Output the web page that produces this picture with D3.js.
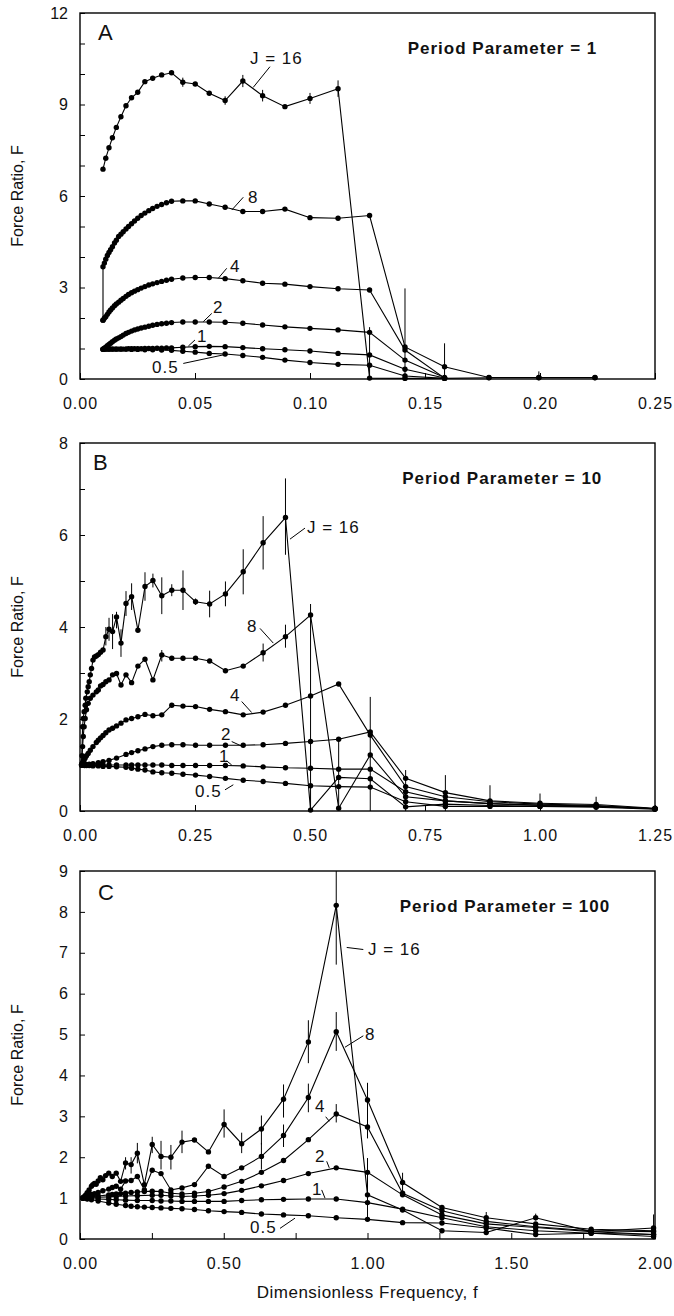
<!DOCTYPE html>
<html>
<head>
<meta charset="utf-8">
<script src="https://cdn.jsdelivr.net/npm/d3@7"></script>
<style>
  body { margin: 0; background: #fff; }
  text { font-family: "Liberation Sans", Arial, Helvetica, sans-serif; fill: #111; }
</style>
</head>
<body>
<svg id="chart" width="674" height="1316"></svg>
<script>
// ---- Panel A: period parameter = 1 ----  [frequency f, force ratio F]
const a16 = [[0.0100,6.88],[0.0112,7.24],[0.0126,7.58],[0.0141,7.91],[0.0158,8.25],[0.0178,8.6],[0.0200,8.96],[0.0224,9.22],[0.0251,9.4],[0.0282,9.75],[0.0316,9.86],[0.0355,9.97],[0.0398,10.04],[0.0447,9.73],[0.0501,9.67],[0.0562,9.37],[0.0631,9.13],[0.0708,9.77],[0.0794,9.29],[0.0891,8.93],[0.1000,9.2],[0.1122,9.52],[0.1259,0.03],[0.1413,0.02],[0.1585,0.02],[0.1778,0.04],[0.1995,0.04],[0.2239,0.04]];
const a8 = [[0.0100,1.93],[0.0100,3.68],[0.0106,3.80],[0.0112,3.93],[0.0119,4.05],[0.0126,4.15],[0.0133,4.24],[0.0141,4.34],[0.0150,4.46],[0.0158,4.55],[0.0168,4.67],[0.0178,4.75],[0.0188,4.83],[0.0200,4.92],[0.0211,5.0],[0.0224,5.09],[0.0237,5.18],[0.0251,5.27],[0.0266,5.36],[0.0282,5.44],[0.0299,5.52],[0.0316,5.59],[0.0335,5.66],[0.0355,5.72],[0.0376,5.78],[0.0398,5.83],[0.0447,5.84],[0.0501,5.84],[0.0562,5.74],[0.0631,5.63],[0.0708,5.49],[0.0794,5.49],[0.0891,5.57],[0.1000,5.29],[0.1122,5.27],[0.1259,5.36],[0.1413,1.05],[0.1585,0.4],[0.1778,0.05],[0.1995,0.05],[0.2239,0.05]];
const a4 = [[0.0100,1.93],[0.0106,1.99],[0.0112,2.04],[0.0119,2.12],[0.0126,2.2],[0.0133,2.26],[0.0141,2.33],[0.0150,2.40],[0.0158,2.46],[0.0168,2.52],[0.0178,2.58],[0.0188,2.64],[0.0200,2.71],[0.0211,2.77],[0.0224,2.83],[0.0237,2.88],[0.0251,2.93],[0.0266,2.98],[0.0282,3.03],[0.0299,3.08],[0.0316,3.12],[0.0335,3.16],[0.0355,3.2],[0.0376,3.24],[0.0398,3.27],[0.0447,3.31],[0.0501,3.33],[0.0562,3.33],[0.0631,3.29],[0.0708,3.22],[0.0794,3.14],[0.0891,3.11],[0.1000,3.03],[0.1122,2.96],[0.1259,2.92],[0.1413,0.95],[0.1585,0.03]];
const a2 = [[0.0100,0.97],[0.0106,1.01],[0.0112,1.04],[0.0119,1.09],[0.0126,1.13],[0.0133,1.17],[0.0141,1.22],[0.0150,1.27],[0.0158,1.31],[0.0168,1.35],[0.0178,1.39],[0.0188,1.44],[0.0200,1.49],[0.0211,1.53],[0.0224,1.57],[0.0237,1.61],[0.0251,1.64],[0.0266,1.67],[0.0282,1.70],[0.0299,1.73],[0.0316,1.76],[0.0335,1.79],[0.0355,1.81],[0.0376,1.83],[0.0398,1.85],[0.0447,1.87],[0.0501,1.87],[0.0562,1.87],[0.0631,1.86],[0.0708,1.83],[0.0794,1.77],[0.0891,1.71],[0.1000,1.66],[0.1122,1.61],[0.1259,1.53],[0.1413,0.62],[0.1585,0.05]];
const a1 = [[0.0100,0.98],[0.0106,0.98],[0.0112,0.98],[0.0119,0.98],[0.0126,0.98],[0.0133,0.98],[0.0141,0.98],[0.0150,0.98],[0.0158,0.98],[0.0168,0.98],[0.0178,0.98],[0.0188,0.98],[0.0200,0.98],[0.0211,0.99],[0.0224,0.99],[0.0237,0.99],[0.0251,0.99],[0.0266,0.99],[0.0282,1.0],[0.0299,1.0],[0.0316,1.0],[0.0335,1.01],[0.0355,1.01],[0.0376,1.02],[0.0398,1.02],[0.0447,1.04],[0.0501,1.06],[0.0562,1.07],[0.0631,1.06],[0.0708,1.03],[0.0794,0.99],[0.0891,0.96],[0.1000,0.92],[0.1122,0.84],[0.1259,0.79],[0.1413,0.32],[0.1585,0.03]];
const a05 = [[0.0100,0.98],[0.0112,0.98],[0.0126,0.98],[0.0141,0.98],[0.0158,0.98],[0.0178,0.98],[0.0200,0.98],[0.0224,0.97],[0.0251,0.97],[0.0282,0.96],[0.0316,0.96],[0.0355,0.95],[0.0398,0.94],[0.0447,0.91],[0.0501,0.88],[0.0562,0.84],[0.0631,0.82],[0.0708,0.77],[0.0794,0.71],[0.0891,0.62],[0.1000,0.54],[0.1122,0.48],[0.1259,0.45],[0.1413,0.1],[0.1585,0.02]];
const errA = [[0.0447,9.58,9.88],[0.0631,8.99,9.27],[0.0708,9.57,9.97],[0.0794,9.1,9.48],[0.1000,9.02,9.38],[0.1122,9.25,9.79],[0.1259,0,1.7],[0.1413,0,2.97],[0.1585,0,1.17],[0.1995,0,0.25]];
const xTicksA = [0, 0.05, 0.10, 0.15, 0.20, 0.25];
const xLabelsA = [0, 0.05, 0.10, 0.15, 0.20, 0.25];
const yTicksA = [0,1,2,3,4,5,6,7,8,9,10,11,12];
const yLabelsA = [0, 3, 6, 9, 12];

// ---- Panel B: period parameter = 10 ----
const b16 = [[0.0035,1.0],[0.0056,1.83],[0.0071,2.01],[0.0089,2.16],[0.0112,2.3],[0.0126,2.45],[0.0158,2.59],[0.0178,2.7],[0.0200,2.81],[0.0224,2.96],[0.0251,3.1],[0.0282,3.28],[0.0316,3.35],[0.0355,3.37],[0.0398,3.4],[0.0447,3.45],[0.0501,3.5],[0.0562,3.79],[0.0631,3.95],[0.0708,3.9],[0.0794,4.22],[0.0891,3.65],[0.1000,4.51],[0.1122,4.66],[0.1259,3.93],[0.1413,4.88],[0.1585,5.01],[0.1778,4.68],[0.1995,4.8],[0.2239,4.8],[0.2512,4.55],[0.2818,4.5],[0.3162,4.72],[0.3548,5.2],[0.3981,5.83],[0.4467,6.38],[0.5012,0.02],[0.5623,0.73],[0.6310,0.70],[0.7079,0.09],[0.7943,0.15],[0.8913,0.12],[1.000,0.1],[1.122,0.1],[1.25,0.05]];
const b8 = [[0.0035,1.0],[0.0045,1.2],[0.0056,1.4],[0.0071,1.62],[0.0089,1.83],[0.0112,2.01],[0.0141,2.2],[0.0178,2.34],[0.0224,2.45],[0.0282,2.52],[0.0355,2.59],[0.0398,2.63],[0.0447,2.72],[0.0501,2.75],[0.0562,2.81],[0.0631,2.85],[0.0708,2.96],[0.0794,2.99],[0.0891,2.74],[0.1000,2.96],[0.1122,2.79],[0.1259,3.15],[0.1413,3.3],[0.1585,2.85],[0.1778,3.39],[0.1995,3.32],[0.2239,3.32],[0.2512,3.32],[0.2818,3.26],[0.3162,3.05],[0.3548,3.15],[0.3981,3.44],[0.4467,3.79],[0.5012,4.26],[0.5623,0.06],[0.6310,1.22],[0.7079,0.31],[0.7943,0.22],[0.8913,0.16],[1.000,0.12],[1.122,0.1],[1.25,0.05]];
const b4 = [[0.0035,1.0],[0.0045,1.03],[0.0056,1.05],[0.0071,1.08],[0.0089,1.11],[0.0112,1.15],[0.0141,1.2],[0.0178,1.25],[0.0224,1.32],[0.0282,1.4],[0.0355,1.49],[0.0398,1.54],[0.0447,1.59],[0.0501,1.64],[0.0562,1.7],[0.0631,1.76],[0.0708,1.8],[0.0794,1.85],[0.0891,1.91],[0.1000,1.98],[0.1122,2.01],[0.1259,2.05],[0.1413,2.1],[0.1585,2.07],[0.1778,2.09],[0.1995,2.3],[0.2239,2.28],[0.2512,2.27],[0.2818,2.21],[0.3162,2.16],[0.3548,2.09],[0.3981,2.15],[0.4467,2.3],[0.5012,2.5],[0.5623,2.76],[0.6310,1.65],[0.7079,0.53],[0.7943,0.31],[0.8913,0.2],[1.000,0.15],[1.122,0.12],[1.25,0.05]];
const b2 = [[0.0035,1.0],[0.0100,1.0],[0.0141,1.01],[0.0200,1.02],[0.0282,1.03],[0.0398,1.05],[0.0501,1.07],[0.0631,1.1],[0.0794,1.15],[0.1000,1.23],[0.1122,1.27],[0.1259,1.31],[0.1413,1.35],[0.1585,1.4],[0.1778,1.43],[0.1995,1.44],[0.2239,1.44],[0.2512,1.43],[0.2818,1.43],[0.3162,1.43],[0.3548,1.43],[0.3981,1.44],[0.4467,1.47],[0.5012,1.51],[0.5623,1.56],[0.6310,1.72],[0.7079,0.71],[0.7943,0.4],[0.8913,0.22],[1.000,0.17],[1.122,0.14],[1.25,0.06]];
const b1 = [[0.0035,1.0],[0.0100,1.0],[0.0141,1.0],[0.0200,1.0],[0.0282,1.0],[0.0398,1.0],[0.0501,1.0],[0.0631,1.0],[0.0794,1.0],[0.1000,1.0],[0.1122,1.0],[0.1259,1.0],[0.1413,1.0],[0.1585,1.0],[0.1778,1.0],[0.1995,0.99],[0.2239,0.99],[0.2512,0.99],[0.2818,0.99],[0.3162,0.99],[0.3548,0.98],[0.3981,0.96],[0.4467,0.94],[0.5012,0.93],[0.5623,0.91],[0.6310,0.91],[0.7079,0.42],[0.7943,0.22],[0.8913,0.16],[1.000,0.13],[1.122,0.11],[1.25,0.05]];
const b05 = [[0.0035,1.0],[0.0100,0.99],[0.0141,0.99],[0.0200,0.99],[0.0282,0.98],[0.0398,0.98],[0.0501,0.97],[0.0631,0.97],[0.0794,0.96],[0.1000,0.95],[0.1122,0.93],[0.1259,0.91],[0.1413,0.89],[0.1585,0.85],[0.1778,0.83],[0.1995,0.82],[0.2239,0.8],[0.2512,0.78],[0.2818,0.75],[0.3162,0.71],[0.3548,0.67],[0.3981,0.64],[0.4467,0.6],[0.5012,0.55],[0.5623,0.53],[0.6310,0.52],[0.7079,0.2],[0.7943,0.1],[0.8913,0.1],[1.000,0.1],[1.122,0.08],[1.25,0.04]];
const errB = [[0.0562,3.6,4.0],[0.0631,3.7,4.2],[0.0708,3.52,4.28],[0.0794,3.97,4.33],[0.0891,3.35,3.95],[0.1000,4.24,4.78],[0.1122,4.37,4.95],[0.1413,4.57,5.19],[0.1585,4.86,5.16],[0.1778,4.28,5.08],[0.1995,4.67,4.93],[0.2239,4.37,5.23],[0.2512,4.48,4.62],[0.2818,4.21,4.79],[0.3162,4.45,4.99],[0.3548,4.71,5.69],[0.3981,5.25,6.41],[0.4467,5.57,7.23],[0.1778,3.25,3.5],[0.3981,3.25,3.64],[0.4467,3.55,4.05],[0.5012,0,4.5],[0.5623,0.06,1.56],[0.6310,0,2.48],[0.7079,0,0.89],[0.7943,0,0.78],[0.8913,0.05,0.56],[1.000,0.05,0.38],[1.122,0.02,0.31]];
const xTicksB = [0, 0.25, 0.50, 0.75, 1.00, 1.25];
const xLabelsB = [0, 0.25, 0.50, 0.75, 1.00, 1.25];
const yTicksB = [0,1,2,3,4,5,6,7,8];
const yLabelsB = [0, 2, 4, 6, 8];

// ---- Panel C: period parameter = 100 ----
const c16 = [[0.0100,1.0],[0.0126,1.02],[0.0158,1.04],[0.0200,1.08],[0.0251,1.13],[0.0316,1.2],[0.0398,1.29],[0.0447,1.33],[0.0501,1.36],[0.0562,1.34],[0.0631,1.42],[0.0708,1.5],[0.0794,1.45],[0.0891,1.55],[0.1000,1.61],[0.1122,1.53],[0.1259,1.61],[0.1413,1.41],[0.1585,1.86],[0.1778,1.82],[0.1995,2.1],[0.2239,1.33],[0.2512,2.31],[0.2818,2.02],[0.3162,2.0],[0.3548,2.37],[0.3981,2.42],[0.4467,2.13],[0.5012,2.8],[0.5623,2.33],[0.6310,2.69],[0.7079,3.42],[0.7943,4.82],[0.8913,8.16],[1.000,1.08],[1.122,0.71],[1.259,0.2],[1.413,0.16],[1.585,0.52],[1.778,0.18],[1.995,0.27]];
const c8 = [[0.0100,1.0],[0.0126,1.01],[0.0158,1.02],[0.0200,1.03],[0.0251,1.05],[0.0316,1.07],[0.0398,1.09],[0.0501,1.11],[0.0631,1.14],[0.0794,1.18],[0.1000,1.22],[0.1122,1.26],[0.1259,1.29],[0.1413,1.22],[0.1585,1.42],[0.1778,1.43],[0.1995,1.53],[0.2239,1.2],[0.2512,1.68],[0.2818,1.6],[0.3162,1.2],[0.3548,1.25],[0.3981,1.33],[0.4467,1.78],[0.5012,1.53],[0.5623,1.74],[0.6310,2.02],[0.7079,2.53],[0.7943,3.46],[0.8913,5.07],[1.000,3.4],[1.122,1.38],[1.259,0.77],[1.413,0.52],[1.585,0.37],[1.778,0.24],[1.995,0.2]];
const c4 = [[0.0100,1.0],[0.0158,1.01],[0.0251,1.02],[0.0398,1.03],[0.0631,1.05],[0.1000,1.08],[0.1122,1.09],[0.1259,1.1],[0.1413,1.11],[0.1585,1.12],[0.1778,1.14],[0.1995,1.15],[0.2239,1.16],[0.2512,1.17],[0.2818,1.16],[0.3162,1.12],[0.3548,1.1],[0.3981,1.12],[0.4467,1.16],[0.5012,1.27],[0.5623,1.41],[0.6310,1.63],[0.7079,1.92],[0.7943,2.43],[0.8913,3.06],[1.000,2.74],[1.122,1.12],[1.259,0.69],[1.413,0.43],[1.585,0.3],[1.778,0.2],[1.995,0.18]];
const c2 = [[0.0100,1.0],[0.0251,1.01],[0.0631,1.02],[0.1000,1.03],[0.1259,1.04],[0.1585,1.05],[0.1995,1.06],[0.2512,1.07],[0.2818,1.07],[0.3162,1.05],[0.3548,1.04],[0.3981,1.05],[0.4467,1.07],[0.5012,1.11],[0.5623,1.19],[0.6310,1.3],[0.7079,1.43],[0.7943,1.6],[0.8913,1.74],[1.000,1.63],[1.122,1.08],[1.259,0.59],[1.413,0.37],[1.585,0.28],[1.778,0.18],[1.995,0.11]];
const c1 = [[0.0100,1.0],[0.0251,0.99],[0.0631,0.98],[0.1000,0.97],[0.1259,0.96],[0.1585,0.95],[0.1995,0.94],[0.2512,0.94],[0.2818,0.93],[0.3162,0.93],[0.3548,0.92],[0.3981,0.92],[0.4467,0.92],[0.5012,0.92],[0.5623,0.94],[0.6310,0.96],[0.7079,0.97],[0.7943,0.98],[0.8913,0.98],[1.000,0.89],[1.122,0.73],[1.259,0.52],[1.413,0.3],[1.585,0.2],[1.778,0.14],[1.995,0.06]];
const c05 = [[0.0100,1.0],[0.0251,0.98],[0.0398,0.96],[0.0631,0.93],[0.1000,0.88],[0.1259,0.85],[0.1585,0.82],[0.1778,0.8],[0.1995,0.79],[0.2239,0.78],[0.2512,0.77],[0.2818,0.76],[0.3162,0.75],[0.3548,0.74],[0.3981,0.72],[0.4467,0.69],[0.5012,0.67],[0.5623,0.65],[0.6310,0.61],[0.7079,0.59],[0.7943,0.57],[0.8913,0.52],[1.000,0.48],[1.122,0.4],[1.259,0.39],[1.413,0.27],[1.585,0.11],[1.778,0.14],[1.995,0.11]];
const errC = [[0.1585,1.7,2.0],[0.1778,1.6,2.0],[0.1995,1.85,2.35],[0.2512,2.1,2.5],[0.2818,1.7,2.4],[0.3162,1.7,2.3],[0.3548,2.1,2.65],[0.5012,2.48,3.17],[0.5623,2.1,2.6],[0.6310,2.31,3.02],[0.7079,2.97,3.78],[0.7943,4.3,5.35],[0.8913,6.71,9.0],[0.6310,1.7,2.35],[0.7079,2.25,2.8],[0.7943,3.1,3.8],[0.8913,4.6,5.55],[0.8913,2.85,3.3],[1.000,2.46,3.82],[1.000,0.48,1.98],[1.122,1.14,1.62],[1.413,0.16,0.66],[1.585,0.45,0.62],[1.995,0.06,0.6]];
const xTicksC = [0, 0.25, 0.50, 0.75, 1.00, 1.25, 1.50, 1.75, 2.00];
const xLabelsC = [0, 0.50, 1.00, 1.50, 2.00];
const yTicksC = [0,1,2,3,4,5,6,7,8,9];
const yLabelsC = [0,1,2,3,4,5,6,7,8,9];

// ---- layout ----
const svg = d3.select("#chart");
const left = 80, right = 655;

const panels = [
  { letter: "A", title: "Period Parameter = 1", top: 13, bottom: 379, xMax: 0.25, yMax: 12,
    xTicks: xTicksA, xLabels: xLabelsA, yTicks: yTicksA, yLabels: yLabelsA,
    series: [a16, a8, a4, a2, a1, a05], errors: errA,
    letterAt: [0.0078, 11.1], titleAt: [0.1837, 10.66],
    notes: [
      { t: "J = 16", at: [0.0739, 10.33], from: [0.0826, 10.24], to: [0.0753, 9.56] },
      { t: "8", at: [0.0730, 5.77], from: [0.0710, 5.96], to: [0.0660, 5.54] },
      { t: "4", at: [0.0652, 3.51], from: [0.0638, 3.63], to: [0.0601, 3.30] },
      { t: "2", at: [0.0578, 2.16], from: [0.0573, 2.15], to: [0.0536, 1.88] },
      { t: "1", at: [0.0509, 1.21], from: [0.0500, 1.28], to: [0.0471, 1.08] },
      { t: "0.5", at: [0.0313, 0.20], from: [0.0449, 0.51], to: [0.0623, 0.79] }
    ] },
  { letter: "B", title: "Period Parameter = 10", top: 443, bottom: 811, xMax: 1.25, yMax: 8,
    xTicks: xTicksB, xLabels: xLabelsB, yTicks: yTicksB, yLabels: yLabelsB,
    series: [b16, b8, b4, b2, b1, b05], errors: errB,
    letterAt: [0.028, 7.41], titleAt: [0.918, 7.11],
    notes: [
      { t: "J = 16", at: [0.4935, 6.04], from: [0.4891, 6.15], to: [0.4565, 5.91] },
      { t: "8", at: [0.363, 3.89], from: [0.3913, 3.97], to: [0.4202, 3.65] },
      { t: "4", at: [0.3261, 2.39], from: [0.3515, 2.38], to: [0.3733, 2.14] },
      { t: "2", at: [0.3065, 1.54], from: [0.3298, 1.51], to: [0.3515, 1.41] },
      { t: "1", at: [0.3022, 1.07], from: [0.3189, 1.09], to: [0.3298, 1.0] },
      { t: "0.5", at: [0.25, 0.30], from: [0.3152, 0.46], to: [0.3333, 0.57] }
    ] },
  { letter: "C", title: "Period Parameter = 100", top: 871, bottom: 1239, xMax: 2.0, yMax: 9,
    xTicks: xTicksC, xLabels: xLabelsC, yTicks: yTicksC, yLabels: yLabelsC,
    series: [c16, c8, c4, c2, c1, c05], errors: errC,
    letterAt: [0.0626, 8.28], titleAt: [1.478, 7.99],
    notes: [
      { t: "J = 16", at: [1.0017, 6.95], from: [0.9854, 7.08], to: [0.9277, 7.13] },
      { t: "8", at: [0.9913, 4.86], from: [0.9854, 4.97], to: [0.9217, 4.69] },
      { t: "4", at: [0.8174, 3.10], from: [0.8546, 2.99], to: [0.8671, 2.88] },
      { t: "2", at: [0.8174, 1.89], from: [0.8581, 1.90], to: [0.8671, 1.74] },
      { t: "1", at: [0.807, 1.08], from: [0.8407, 1.20], to: [0.8522, 1.0] },
      { t: "0.5", at: [0.5913, 0.15], from: [0.6957, 0.26], to: [0.7478, 0.51] }
    ] }
];

const fmt = d3.format(".2f");

panels.forEach(p => {
  const x = d3.scaleLinear().domain([0, p.xMax]).range([left, right]);
  const y = d3.scaleLinear().domain([0, p.yMax]).range([p.bottom, p.top]);
  const g = svg.append("g");

  // x axis (ticks inside)
  g.append("g")
    .attr("transform", `translate(0,${p.bottom})`)
    .call(d3.axisBottom(x).tickValues(p.xTicks).tickSize(-6).tickPadding(18.5)
      .tickFormat(d => p.xLabels.includes(d) ? fmt(d) : ""))
    .call(a => a.select(".domain").remove())
    .call(a => a.selectAll("text").attr("font-size", 16).attr("letter-spacing", 1)
      .attr("font-family", "Liberation Sans, Arial, sans-serif").attr("fill", "#111"));

  // y axis (ticks inside)
  g.append("g")
    .attr("transform", `translate(${left},0)`)
    .call(d3.axisLeft(y).tickValues(p.yTicks).tickSize(-5).tickPadding(12)
      .tickFormat(d => p.yLabels.includes(d) ? d : ""))
    .call(a => a.select(".domain").remove())
    .call(a => a.selectAll("text").attr("font-size", 16)
      .attr("font-family", "Liberation Sans, Arial, sans-serif").attr("fill", "#111"));

  // frame
  g.append("rect")
    .attr("x", left).attr("y", p.top)
    .attr("width", right - left).attr("height", p.bottom - p.top)
    .attr("fill", "none").attr("stroke", "#000").attr("stroke-width", 1.4);

  // error bars
  g.selectAll(null).data(p.errors).join("line")
    .attr("x1", d => x(d[0])).attr("x2", d => x(d[0]))
    .attr("y1", d => y(Math.max(0, d[1]))).attr("y2", d => y(Math.min(p.yMax, d[2])))
    .attr("stroke", "#000").attr("stroke-width", 1);

  // series lines and markers
  const line = d3.line().x(d => x(d[0])).y(d => y(d[1]));
  p.series.forEach(s => {
    g.append("path").datum(s).attr("d", line)
      .attr("fill", "none").attr("stroke", "#000").attr("stroke-width", 1.1);
    g.selectAll(null).data(s).join("circle")
      .attr("cx", d => x(d[0])).attr("cy", d => y(d[1])).attr("r", 2.7)
      .attr("fill", "#000");
  });

  // series labels with leader lines
  p.notes.forEach(n => {
    g.append("line")
      .attr("x1", x(n.from[0])).attr("y1", y(n.from[1]))
      .attr("x2", x(n.to[0])).attr("y2", y(n.to[1]))
      .attr("stroke", "#000").attr("stroke-width", 1);
    g.append("text")
      .attr("x", x(n.at[0])).attr("y", y(n.at[1]))
      .attr("font-size", 17).attr("letter-spacing", 1)
      .text(n.t);
  });

  // panel letter and title
  g.append("text")
    .attr("x", x(p.letterAt[0])).attr("y", y(p.letterAt[1]))
    .attr("font-size", 22)
    .text(p.letter);
  g.append("text")
    .attr("x", x(p.titleAt[0])).attr("y", y(p.titleAt[1]))
    .attr("text-anchor", "middle")
    .attr("font-size", 17).attr("font-weight", "bold").attr("letter-spacing", 1)
    .text(p.title);

  // y axis title
  svg.append("text")
    .attr("transform", `translate(23,${(p.top + p.bottom) / 2}) rotate(-90)`)
    .attr("text-anchor", "middle")
    .attr("font-size", 16)
    .text("Force Ratio, F");
});

// x axis title
svg.append("text")
  .attr("x", (left + right) / 2).attr("y", 1298)
  .attr("text-anchor", "middle")
  .attr("font-size", 17).attr("letter-spacing", 0.5)
  .text("Dimensionless Frequency, f");
</script>
</body>
</html>
